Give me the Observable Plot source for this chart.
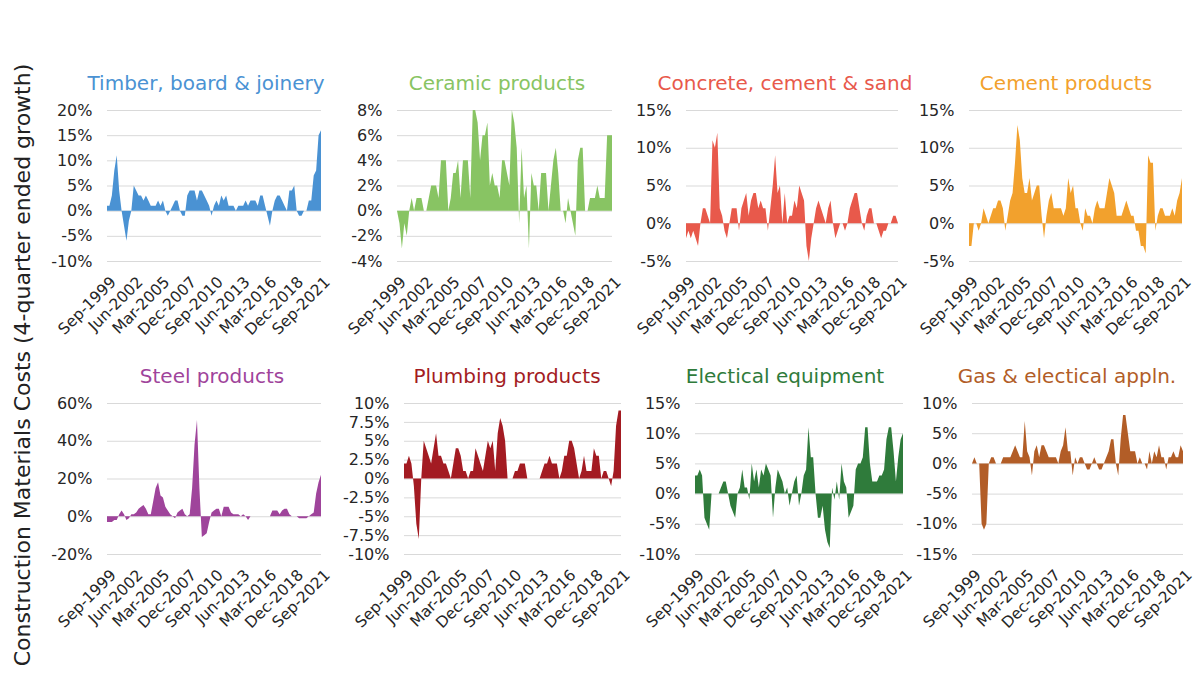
<!DOCTYPE html>
<html><head><meta charset="utf-8">
<script src="https://cdn.jsdelivr.net/npm/d3@7"></script>
<script src="https://cdn.jsdelivr.net/npm/@observablehq/plot@0.6"></script>
<style>
body{margin:0;background:#fff;}
#root{position:relative;width:1200px;height:675px;overflow:hidden;font-family:"DejaVu Sans",sans-serif;}
.panel{position:absolute;}
.title{position:absolute;transform:translate(-50%,-50%);font-size:20px;white-space:nowrap;}
.ylab{position:absolute;transform:translate(-50%,-50%) rotate(-90deg);font-size:22px;white-space:nowrap;color:#222;}
</style></head><body><div id="root"></div>
<script>
const tickLabels = ["Sep-1999","Jun-2002","Mar-2005","Dec-2007","Sep-2010","Jun-2013","Mar-2016","Dec-2018","Sep-2021"];
const titles = ["Timber, board & joinery","Ceramic products","Concrete, cement & sand","Cement products","Steel products","Plumbing products","Electical equipment","Gas & electical appln."];
const colors = ["#4a92d3","#88c463","#e8594b","#f2a12d","#9f449b","#a31b22","#2f7b3b","#b25d27"];

const timber = [1,1,3,8,11,4,0,-3,-6,-2, 0,5,4,3,3,2,3,2,1,1, 1,2,1,2,0,-1,0,1,2,2, 0,-1,-1,3,4,4,4,2,4,4, 3,2,1,-1,1,2,1,3,2,3, 1,1,1,0,1,1,1,2,1,2, 2,2,1,3,3,1,-1,-3,0,2, 3,3,2,1,0,4,4,5,0,-1, -1,0,0,2,2,7,8,15,16];
const ceramic = [0,-1,-3,-1,-2,0,1,0,1,1, 1,0,0,1,2,2,2,1,4,4, 4,0,1,3,3,4,1,4,4,4, 1,8,8,7,4,6,6,7,2,3, 2,2,1,4,4,3,2,8,7,5, -1,5,1,2,-3,3,2,2,0,3, 3,3,0,2,4,5,3,0,0,-1, 1,0,-1,-2,4,5,5,0,0,1, 1,1,2,1,1,1,6,6,6];
const concrete = [-2,-1,-2,-1,-2,-3,0,2,2,1, 0,11,10,12,2,1,-1,-2,0,2, 2,2,-1,2,3,4,1,3,4,4, 2,3,2,2,-1,2,5,9,4,5, 0,4,0,1,1,3,2,5,4,3, -3,-5,-2,0,2,3,2,1,0,2, 3,0,-2,-1,0,0,-1,0,2,3, 4,4,2,0,-1,1,2,2,0,0, -1,-2,-1,-1,0,0,1,1,0];
const cement = [-3,-3,0,0,-1,0,2,1,0,1, 2,2,3,3,2,-1,1,3,4,8, 13,11,6,4,4,6,3,4,5,5, 1,-2,1,3,4,2,2,2,2,1, 2,6,4,5,2,2,0,-1,2,1, 1,0,2,3,2,2,2,4,6,5, 4,1,1,1,2,3,2,1,1,-1, -1,-3,-3,-4,9,8,8,-1,1,2, 2,1,1,1,2,1,3,4,6];
const steel = [-3,-3,-3,-2,-2,1,3,1,-2,-1, 1,1,2,4,5,6,4,1,1,8, 15,18,11,10,5,3,1,0,-1,2, 3,4,1,0,1,15,38,51,15,-11, -10,-9,-3,2,3,4,4,0,5,5, 5,2,1,1,1,0,1,0,-2,0, 0,0,0,0,0,0,0,0,3,3, 3,1,3,4,4,1,0,0,0,-1, -1,-1,-1,0,1,2,12,18,22];
const plumbing = [2,2,3,2,-1,-6,-8,0,5,4, 3,2,4,6,3,3,2,2,1,0, 2,4,4,3,1,1,0,1,1,4, 3,2,1,3,5,4,5,1,6,8, 7,5,0,0,0,1,1,2,2,2, 0,0,0,0,0,0,1,2,2,3, 2,2,2,0,1,3,3,5,5,4, 2,0,1,3,1,1,1,4,3,3, 0,1,1,0,-1,1,7,9,9];
const electrical = [3,3,4,3,-4,-5,-6,0,0,0, 0,1,2,2,0,-2,-3,-4,0,1, 4,1,1,-1,5,2,4,1,4,3, 5,4,3,-4,1,4,3,2,0,1, -2,0,2,3,-2,0,3,4,11,6, 6,0,-4,-4,-2,-6,-8,-9,1,-1, 2,-1,5,2,1,-4,-3,-2,4,5, 5,6,11,11,5,2,2,2,3,3, 4,9,11,11,7,2,6,9,10];
const gas = [0,1,0,0,-10,-11,-10,0,1,1, 0,0,0,1,1,1,1,2,3,2, 1,1,7,2,1,-2,2,3,1,3, 3,2,1,1,1,1,0,2,3,6, 2,2,-2,1,0,1,1,0,-1,-1, 0,1,0,-1,-1,0,1,2,4,4, 0,-2,4,8,8,5,2,2,2,0, 1,0,0,-1,2,0,2,1,3,1, 1,-1,1,1,2,1,1,3,2];

const yTicks = [
  [-10,-5,0,5,10,15,20],
  [-4,-2,0,2,4,6,8],
  [-5,0,5,10,15],
  [-5,0,5,10,15],
  [-20,0,20,40,60],
  [-10,-7.5,-5,-2.5,0,2.5,5,7.5,10],
  [-10,-5,0,5,10,15],
  [-15,-10,-5,0,5,10]
];
const series = [timber, ceramic, concrete, cement, steel, plumbing, electrical, gas];

// quarter labels along the category axis
const fmt = d3.timeFormat("%b-%Y");
const quarters = d3.range(timber.length).map(i => fmt(d3.timeMonth.offset(new Date(1999, 8, 1), 3 * i)));
const tickIdx = tickLabels.map(l => quarters.indexOf(l));

// layout (plot-area boxes, title centres)
const boxes = [
  {l:107, r:321, t:110, tc:206}, {l:397, r:612, t:110, tc:497}, {l:686, r:898, t:110, tc:785}, {l:969, r:1182, t:110, tc:1066},
  {l:107, r:321, t:403, tc:212}, {l:404, r:621, t:403, tc:507}, {l:695, r:903, t:403, tc:785}, {l:972, r:1183, t:403, tc:1067}
];
const PH = 151, ML = 80, MR = 30, MT = 12, MB = 100;
const root = document.getElementById("root");
const FONT = '"DejaVu Sans", sans-serif';

series.forEach((vals, k) => {
  const b = boxes[k];
  const data = vals.map((v, i) => ({i, v}));
  const ticks = yTicks[k];
  const chart = Plot.plot({
    width: (b.r - b.l) + ML + MR,
    height: PH + MT + MB,
    marginLeft: ML, marginRight: MR, marginTop: MT, marginBottom: MB,
    style: {fontFamily: FONT, fontSize: "16px", color: "#262626", background: "transparent", overflow: "visible"},
    x: {domain: [0, quarters.length - 1]},
    y: {domain: [ticks[0], ticks[ticks.length - 1]]},
    marks: [
      Plot.gridY(ticks, {stroke: "#d9d9d9", strokeOpacity: 1}),
      Plot.areaY(data, {x: "i", y: "v", fill: colors[k]}),
      Plot.axisY(ticks, {tickFormat: d => d + "%", tickSize: 0, tickPadding: 15, label: null, fontSize: 16}),
      Plot.axisX(tickIdx, {tickFormat: i => quarters[i], tickRotate: -45, tickSize: 0, tickPadding: 4, dx: 6, dy: 14, label: null, fontSize: 15.5})
    ]
  });
  chart.classList.add("panel");
  chart.style.left = (b.l - ML) + "px";
  chart.style.top = (b.t - MT) + "px";
  root.appendChild(chart);

  const t = document.createElement("div");
  t.className = "title";
  t.textContent = titles[k];
  t.style.color = colors[k];
  t.style.left = b.tc + "px";
  t.style.top = (b.t - 27) + "px";
  root.appendChild(t);
});

const yl = document.createElement("div");
yl.className = "ylab";
yl.textContent = "Construction Materials Costs (4-quarter ended growth)";
yl.style.left = "22px";
yl.style.top = "365px";
root.appendChild(yl);
</script></body></html>
